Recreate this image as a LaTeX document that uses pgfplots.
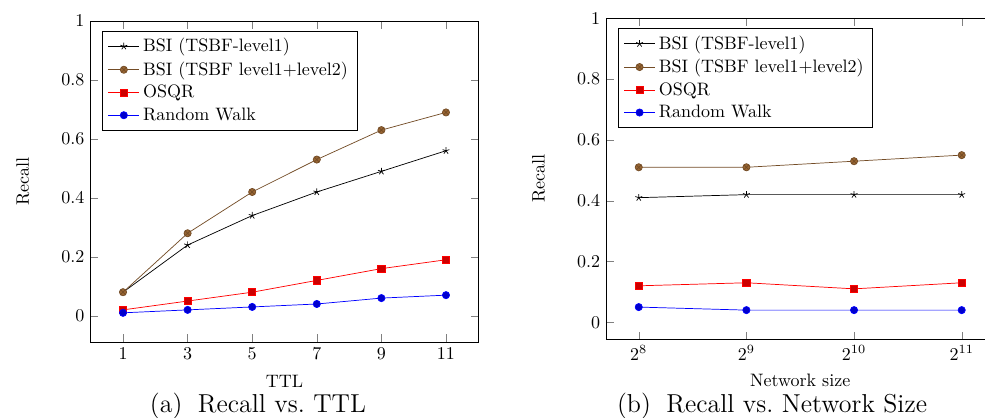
\documentclass[border=0pt]{standalone}
\usepackage{pgfplots}
\pgfplotsset{compat=1.18}
\begin{document}
\begin{tikzpicture}
\useasboundingbox (0,0) rectangle (547.2pt,-232.2pt);
\pgfplotsset{
  myaxis/.style={
    scale only axis,
    width=215.3pt, height=178.3pt,
    ymax=1,
    ylabel={Recall},
    ylabel shift=11pt,
    legend pos=north west,
    legend cell align=left,
  },
  s1/.style={black, mark=star},
  s2/.style={brown!60!black, mark=otimes*, mark options={fill=brown!80!black}},
  s3/.style={red, mark=square*, mark options={fill=red!80!black}},
  s4/.style={blue, mark=*, mark options={fill=blue!80!black}},
}
\begin{axis}[myaxis, at={(50.4pt,-11.7pt)}, anchor=north west,
  xlabel={TTL}, xlabel shift=1.5pt, xtick={1,3,5,7,9,11}, xmin=0, xmax=12]
\addplot[s1] coordinates {(1,0.08) (3,0.24) (5,0.34) (7,0.42) (9,0.49) (11,0.56)};
\addlegendentry{BSI (TSBF-level1)}
\addplot[s2] coordinates {(1,0.08) (3,0.28) (5,0.42) (7,0.53) (9,0.63) (11,0.69)};
\addlegendentry{BSI (TSBF level1+level2)}
\addplot[s3] coordinates {(1,0.02) (3,0.05) (5,0.08) (7,0.12) (9,0.16) (11,0.19)};
\addlegendentry{OSQR}
\addplot[s4] coordinates {(1,0.01) (3,0.02) (5,0.03) (7,0.04) (9,0.06) (11,0.07)};
\addlegendentry{Random Walk}
\end{axis}
\begin{axis}[myaxis, at={(336.9pt,-10.2pt)}, anchor=north west,
  xlabel={Network size}, xlabel shift=1pt, xmode=log, log basis x=2,
  xtick={256,512,1024,2048}]
\addplot[s1] coordinates {(256,0.41) (512,0.42) (1024,0.42) (2048,0.42)};
\addlegendentry{BSI (TSBF-level1)}
\addplot[s2] coordinates {(256,0.51) (512,0.51) (1024,0.53) (2048,0.55)};
\addlegendentry{BSI (TSBF level1+level2)}
\addplot[s3] coordinates {(256,0.12) (512,0.13) (1024,0.11) (2048,0.13)};
\addlegendentry{OSQR}
\addplot[s4] coordinates {(256,0.05) (512,0.04) (1024,0.04) (2048,0.04)};
\addlegendentry{Random Walk}
\end{axis}
\node[anchor=base, font=\Large] at (143.3pt,-228.9pt) {(a)\hspace{0.6em}Recall vs.\ TTL};
\node[anchor=base, font=\Large] at (428.9pt,-228.9pt) {(b)\hspace{0.6em}Recall vs.\ Network Size};
\end{tikzpicture}
\end{document}
